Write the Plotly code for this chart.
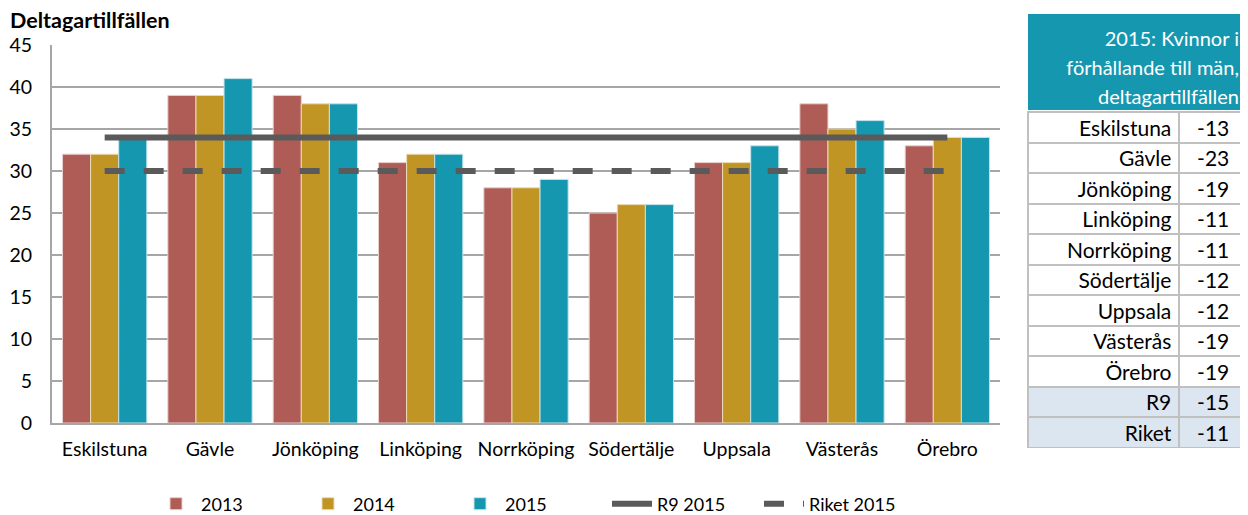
import plotly.graph_objects as go

cities = ["Eskilstuna", "Gävle", "Jönköping", "Linköping", "Norrköping",
          "Södertälje", "Uppsala", "Västerås", "Örebro"]
y2013 = [32, 39, 39, 31, 28, 25, 31, 38, 33]
y2014 = [32, 39, 38, 32, 28, 26, 31, 35, 34]
y2015 = [34, 41, 38, 32, 29, 26, 33, 36, 34]
r9_2015 = 34
riket_2015 = 30

table_rows = cities + ["R9", "Riket"]
table_vals = [-13, -23, -19, -11, -11, -12, -12, -19, -19, -15, -11]
table_title = ["2015: Kvinnor i", "förhållande till män,", "deltagartillfällen"]

# the html page has an 8px body margin, so the figure is 8px smaller
W, H = 1240, 507
FONT = "Lato, 'Open Sans', sans-serif"
GRID = "#a6a6a6"
TEAL = "#1697b0"

def px_x(v):
    return v / W

def px_y(v):
    return 1 - v / H

fig = go.Figure()
fig.add_trace(go.Bar(x=cities, y=y2013, name="2013", marker_color="#b05c56",
                     marker_line=dict(color="#e8cfcd", width=1)))
fig.add_trace(go.Bar(x=cities, y=y2014, name="2014", marker_color="#c09524",
                     marker_line=dict(color="#eadcb8", width=1)))
fig.add_trace(go.Bar(x=cities, y=y2015, name="2015", marker_color=TEAL,
                     marker_line=dict(color="#c4e3ea", width=1)))
fig.add_trace(go.Scatter(x=cities, y=[r9_2015] * len(cities), name="R9 2015",
                         mode="lines", line=dict(color="#5a5a5a", width=6)))
fig.add_trace(go.Scatter(x=cities, y=[riket_2015] * len(cities), name="Riket 2015",
                         mode="lines", line=dict(color="#5a5a5a", width=6, dash="20px,19px")))

# table title block, an empty spacer row then one line per row (right aligned)
fig.add_trace(go.Table(
    domain=dict(x=[px_x(1020), 1], y=[px_y(104), px_y(6)]),
    header=dict(values=[""], fill_color=TEAL, height=9,
                font=dict(color="white", size=4, family=FONT),
                line=dict(color=TEAL, width=0)),
    cells=dict(values=[table_title], fill_color=TEAL, align="right",
               font=dict(color="white", size=20, family=FONT), height=29,
               line=dict(color=TEAL, width=0)),
))
# table body, first row used as header row with the same style
fills = ["white"] * 8 + ["#dce6f1"] * 2
fig.add_trace(go.Table(
    domain=dict(x=[px_x(1020), 1], y=[px_y(440), px_y(104)]),
    columnwidth=[152, 68],
    header=dict(values=[table_rows[0], table_vals[0]], align=["right", "center"],
                fill_color="white", height=30.5,
                font=dict(color="black", size=21, family=FONT),
                line=dict(color="#c0c0c0", width=2)),
    cells=dict(values=[table_rows[1:], table_vals[1:]], align=["right", "center"],
               fill_color=[fills, fills], height=30.5,
               font=dict(color="black", size=21, family=FONT),
               line=dict(color="#c0c0c0", width=2)),
))

fig.add_annotation(text="<b>Deltagartillfällen</b>", xref="paper", yref="paper",
                   x=px_x(0), y=px_y(12), xanchor="left", yanchor="middle",
                   showarrow=False, font=dict(size=21.5, color="black", family=FONT))

fig.update_layout(
    width=W, height=H, margin=dict(l=0, r=0, t=0, b=0, autoexpand=False),
    paper_bgcolor="white", plot_bgcolor="white",
    font=dict(family=FONT, size=19, color="black"),
    barmode="group", bargap=0.2, bargroupgap=0,
    xaxis=dict(domain=[px_x(44), px_x(992)], showline=True, linecolor=GRID, linewidth=2,
               ticks="outside", ticklen=8, tickcolor="rgba(0,0,0,0)",
               tickfont=dict(size=19.5), automargin=False),
    yaxis=dict(domain=[px_y(415), px_y(37)], range=[0, 45], dtick=5,
               showgrid=True, gridcolor=GRID, gridwidth=2, showline=True,
               linecolor=GRID, linewidth=2, zeroline=False,
               ticks="outside", ticklen=14, tickcolor="rgba(0,0,0,0)",
               tickfont=dict(size=19.5), automargin=False),
    legend=dict(orientation="h", x=px_x(143), xanchor="left", y=px_y(496),
                yanchor="middle", font=dict(size=18), itemwidth=40,
                entrywidth=97, traceorder="normal"),
    showlegend=True,
)

fig.write_html("out.html")
